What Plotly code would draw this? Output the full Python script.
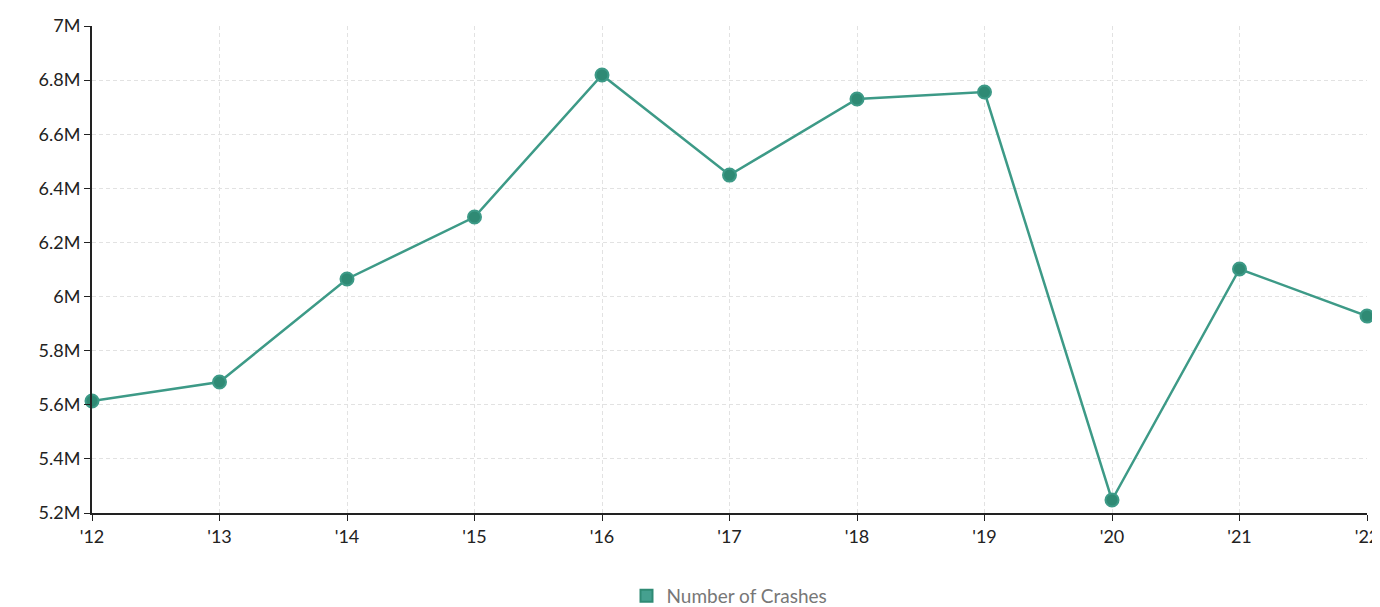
import plotly.graph_objects as go

years = ["'12", "'13", "'14", "'15", "'16", "'17", "'18", "'19", "'20", "'21", "'22"]
crashes = [5.614e6, 5.684e6, 6.065e6, 6.294e6, 6.819e6, 6.449e6, 6.730e6, 6.756e6, 5.248e6, 6.102e6, 5.928e6]
series_name = "Number of Crashes"

fig = go.Figure()
fig.add_trace(go.Scatter(
    x=years, y=crashes, mode="lines+markers", showlegend=False, cliponaxis=False,
    line=dict(color="#3d9a87", width=2.5),
    marker=dict(size=13, color="#2f8a74", line=dict(color="#3d9a87", width=2)),
))
# legend entry drawn as a filled box
fig.add_trace(go.Bar(
    x=[years[0]], y=[None], name=series_name,
    marker=dict(color="#45a08f", line=dict(color="#2f8a74", width=2)),
))

fig.update_layout(
    width=1380, height=607, plot_bgcolor="white", paper_bgcolor="white",
    margin=dict(l=84, r=21, t=18, b=102, autoexpand=False),
    font=dict(family="Lato, sans-serif", size=18, color="#222"),
    legend=dict(orientation="h", x=0.5, xanchor="center", xref="paper",
                y=28, yref="container", yanchor="middle",
                font=dict(size=19, color="#777")),
)
fig.update_xaxes(
    type="category", range=[0, 10], automargin=False, showline=True, linecolor="#222",
    linewidth=2, ticks="outside", ticklen=6, tickcolor="#222",
    showgrid=True, gridcolor="#e2e2e2", griddash="4px,3px",
)
fig.update_yaxes(
    range=[5.2e6, 7e6], dtick=2e5, tickformat="~s", automargin=False, showline=True,
    linecolor="#222", linewidth=2, ticks="outside", ticklen=6, tickcolor="#222",
    showgrid=True, gridcolor="#e2e2e2", griddash="4px,3px", zeroline=False,
)
fig.write_html("out.html")
